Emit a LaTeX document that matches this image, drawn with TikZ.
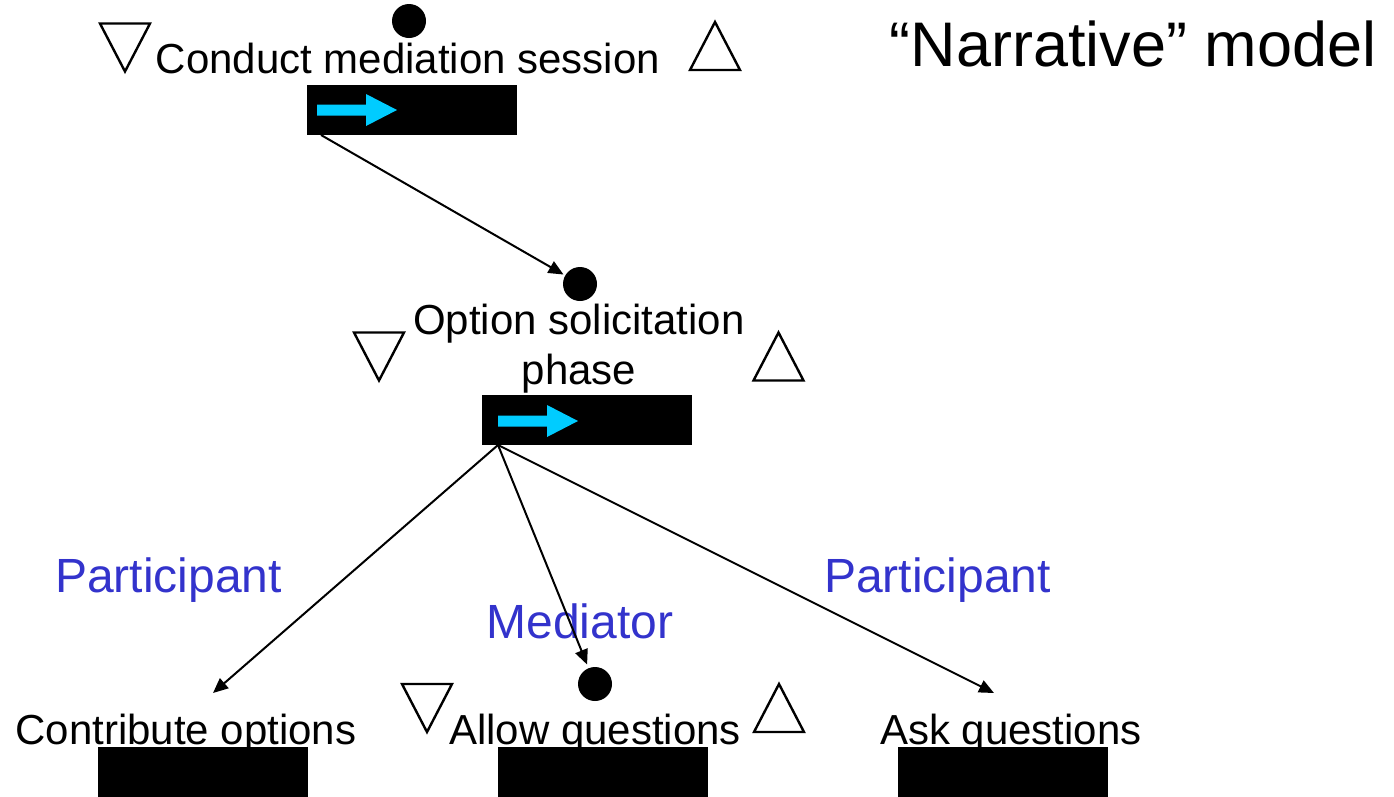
\documentclass[tikz,border=0pt]{standalone}
\usepackage{fontspec}
\setmainfont{Liberation Sans}
\usetikzlibrary{arrows.meta,calc}
\definecolor{rolecol}{HTML}{3333CC}
\definecolor{flowcyan}{HTML}{00CCFF}
\tikzset{
  every node/.style={inner sep=0pt, outer sep=0pt},
  stepname/.style={font=\fontsize{42}{50}\selectfont, anchor=base},
  rolename/.style={font=\fontsize{48}{56}\selectfont, text=rolecol, anchor=base},
  stepbar/.style={fill=black, minimum width=210pt, minimum height=50pt},
  stepdot/.style={circle, fill=black, minimum size=34pt},
  tri/.style={draw=black, line width=2.4pt, line join=miter, fill=white},
  link/.style={line width=2pt, -{Triangle[length=15pt,width=13pt]}},
  downtri/.pic={\draw[tri] (-25,-24) -- (25,-24) -- (0,24) -- cycle;},
  uptri/.pic={\draw[tri] (-25,24) -- (25,24) -- (0,-24) -- cycle;},
  flowarrow/.pic={\fill[flowcyan] (0,-5.5) -- (49,-5.5) -- (49,-16) -- (80,0) -- (49,16) -- (49,5.5) -- (0,5.5) -- cycle;}
}
\begin{document}
\begin{tikzpicture}[x=1pt, y=-1pt]
\useasboundingbox (0,0) rectangle (1394,796);

% title
\node[font=\fontsize{63}{72}\selectfont, anchor=base] (title) at (1133,66) {“Narrative” model};

% top step: Conduct mediation session
\node[stepdot] (dot1) at (409,21) {};
\node[stepname] (conduct) at (408,73) {Conduct mediation session};
\pic at (125,47.5) {downtri};
\pic at (715,46) {uptri};
\node[stepbar] (bar1) at (412,110) {};
\pic at (317,110) {flowarrow};

% middle step: Option solicitation phase
\node[stepdot] (dot2) at (580,284) {};
\node[font=\fontsize{42}{50}\selectfont, align=center] (option) at (579,349) {Option solicitation\\phase};
\pic at (379,356.5) {downtri};
\pic at (778.5,356.5) {uptri};
\node[stepbar] (bar2) at (587,420) {};
\pic at (498,421) {flowarrow};

% bottom steps
\node[stepname] (contrib) at (186,744) {Contribute options};
\node[stepbar] (bar3) at (203,772) {};

\node[stepdot] (dot3) at (595,684) {};
\node[stepname] (allow) at (595,744) {Allow questions};
\pic at (427,708) {downtri};
\pic at (779,708) {uptri};
\node[stepbar] (bar4) at (603,772) {};

\node[stepname] (ask) at (1011,744) {Ask questions};
\node[stepbar] (bar5) at (1003,772) {};

% roles
\node[rolename] (role1) at (168.5,592) {Participant};
\node[rolename] (role2) at (580,638) {Mediator};
\node[rolename] (role3) at (937.5,592) {Participant};

% connectors
\coordinate (out1) at ($(bar1.south west)+(14,0)$);
\coordinate (out2) at ($(bar2.south west)+(16,0)$);
\coordinate (inContrib) at (213,693);
\coordinate (inAsk) at (994,693);
\draw[link, shorten >=2pt] (out1) -- (dot2);
\draw[link] (out2) -- (inContrib);
\draw[link, shorten >=4pt] (out2) -- (dot3);
\draw[link] (out2) -- (inAsk);
\end{tikzpicture}
\end{document}
